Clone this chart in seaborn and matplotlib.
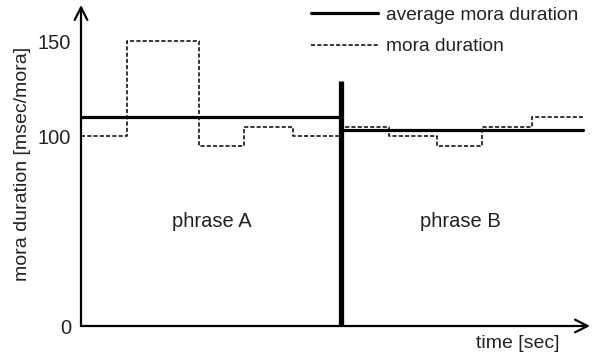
import matplotlib
matplotlib.use("Agg")
import matplotlib.pyplot as plt
from matplotlib.lines import Line2D
import seaborn as sns
import pandas as pd

# segment boundaries (time, arbitrary units) and mora durations [msec/mora]
mora_edges = [0, 46, 118, 163, 212, 260, 308, 356, 401, 451, 502]
mora_values = [100, 150, 95, 105, 100, 105, 100, 95, 105, 110]

avg_edges = [0, 260, 502]
avg_values = [110, 103]

phrase_boundary = 260
boundary_top = 129
phrase_labels = ["phrase A", "phrase B"]
phrase_label_x = [131, 379]
phrase_label_y = 55

y_ticks = [0, 100, 150]


def steps(edges, values):
    return pd.DataFrame({"t": edges, "d": list(values) + [values[-1]]})


sns.set_theme(style="white")
plt.rcParams["font.family"] = ["Liberation Sans", "DejaVu Sans"]
ink = "#222222"
dash = (0, (2.7, 1.4))

fig = plt.figure(figsize=(5.98, 3.6), dpi=100)
ax = fig.add_axes([81 / 598, 34 / 360, 509 / 598, 321 / 360])

mora = steps(mora_edges, mora_values)
avg = steps(avg_edges, avg_values)

sns.lineplot(data=mora, x="t", y="d", ax=ax, color="black", lw=1.1,
             linestyle=dash, drawstyle="steps-post", sort=False)
sns.lineplot(data=avg, x="t", y="d", ax=ax, color="black", lw=2.3,
             drawstyle="steps-post", sort=False)
ax.vlines(phrase_boundary, 0, boundary_top, color="black", lw=3.8)

for lab, x in zip(phrase_labels, phrase_label_x):
    ax.text(x, phrase_label_y, lab, ha="center", va="center", fontsize=14.5, color=ink)

ax.set_xlim(0, 509)
ax.set_ylim(0, 169)
for s in ax.spines.values():
    s.set_visible(False)

# axes with arrow heads
arrow = dict(arrowstyle="->,head_length=0.75,head_width=0.38", color="black", lw=1.6,
             shrinkA=0, shrinkB=0)
ax.annotate("", xy=(0, 1), xytext=(0, 0), xycoords="axes fraction", arrowprops=arrow,
            annotation_clip=False)
ax.annotate("", xy=(1, 0), xytext=(0, 0), xycoords="axes fraction", arrowprops=arrow,
            annotation_clip=False)

ax.set_xticks([])
ax.set_yticks(y_ticks)
ax.set_yticklabels([str(v) for v in y_ticks], fontsize=14.5, color=ink)
ax.tick_params(axis="y", length=0, pad=7)
ax.set_xlabel("")
ax.set_ylabel("mora duration [msec/mora]", fontsize=14, color=ink)
ax.yaxis.set_label_coords(-0.098, 0.505)
fig.text(518 / 598, 1 - 343 / 360, "time [sec]", ha="center", va="center", fontsize=14,
         color=ink)

handles = [Line2D([], [], color="black", lw=2.3),
           Line2D([], [], color="black", lw=1.1, linestyle=dash)]
fig.legend(handles, ["average mora duration", "mora duration"], loc="upper left",
           bbox_to_anchor=(294 / 598, 1.031), frameon=False, fontsize=13.8,
           labelcolor=ink, handlelength=3.5, handletextpad=0.4, labelspacing=0.75)

plt.savefig("out.png", dpi=100)
